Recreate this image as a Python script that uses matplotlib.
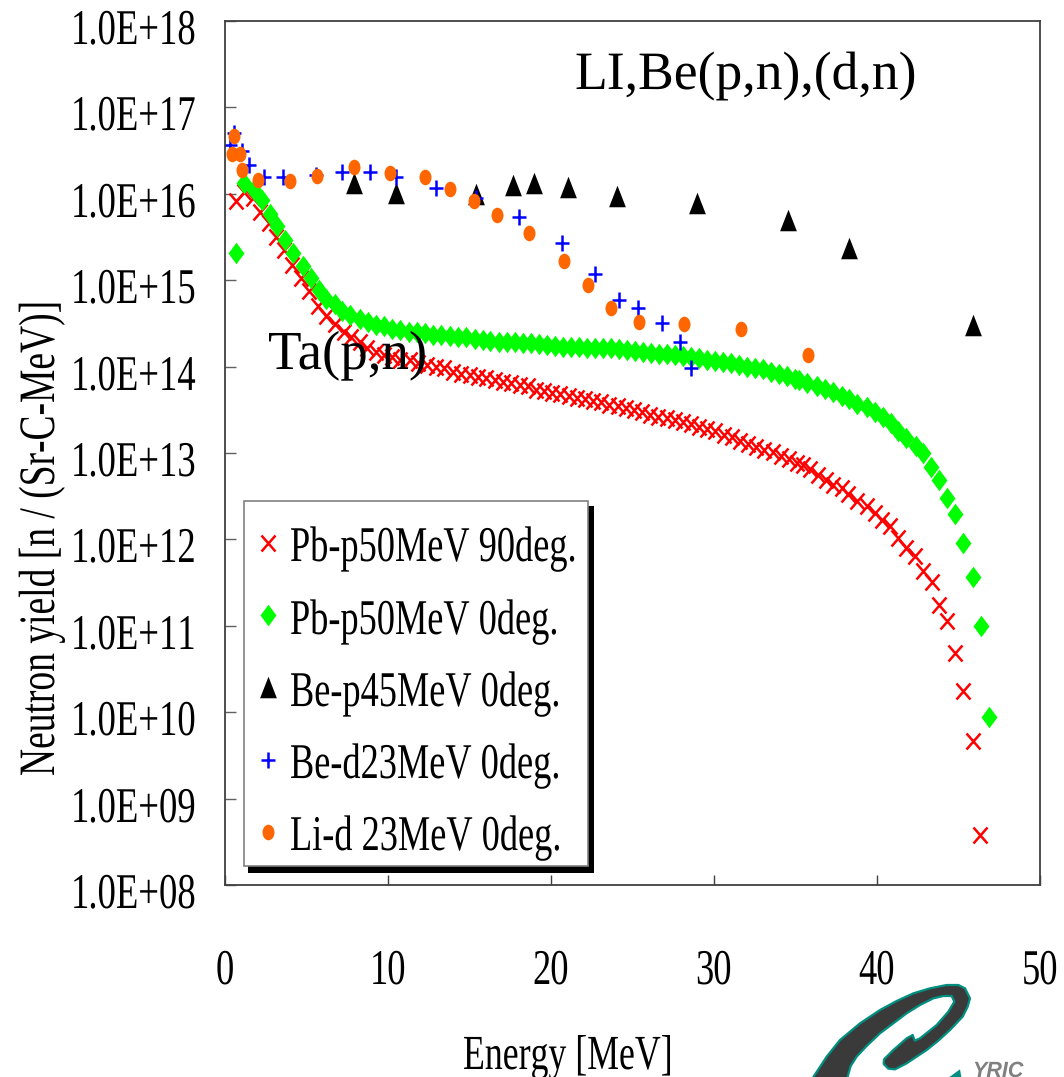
import numpy as np
import matplotlib
matplotlib.use("Agg")
import matplotlib.pyplot as plt
from matplotlib import font_manager as fm
from matplotlib.markers import MarkerStyle
from matplotlib.patches import Polygon, Rectangle
from matplotlib.transforms import Affine2D, ScaledTranslation

# ---------- data (x in MeV, y as log10 of the yield) ----------
pb90_x = [0.72,1.2,1.75,2.2,2.72,3.17,3.62,4.13,4.66,5.2,5.73,6.24,6.75,7.3,7.77,8.28,8.75,9.26,9.75,10.27,
          10.74,11.35,11.86,12.4,12.98,13.45,14.0,14.52,15.03,15.54,16.05,16.56,17.07,17.59,18.1,
          18.6,19.1,19.6,20.1,20.6,21.1,21.6,22.1,22.6,23.1,23.6,24.1,24.6,25.1,25.6,26.1,26.6,27.1,27.6,28.1,
          28.6,29.1,29.6,30.1,30.6,31.1,31.6,32.1,32.6,33.1,33.6,34.1,34.6,35.1,
          35.48,35.9,36.4,36.88,37.3,37.84,38.25,38.76,39.37,39.88,40.29,40.8,41.31,41.78,42.34,42.85,43.36,43.8,
          44.3,44.8,45.28,45.87,46.35]
pb90_log = [15.92,16.02,15.95,15.79,15.66,15.50,15.35,15.18,15.02,14.87,14.70,14.59,14.49,14.40,14.34,14.28,14.22,14.17,14.13,14.11,
            14.08,14.08,14.04,14.02,14.00,13.98,13.94,13.92,13.90,13.88,13.865,13.845,13.825,13.81,13.79,
            13.77,13.73,13.72,13.70,13.68,13.66,13.64,13.625,13.60,13.585,13.56,13.54,13.52,13.50,13.47,13.44,13.42,13.40,13.38,13.36,
            13.33,13.30,13.28,13.25,13.21,13.18,13.14,13.10,13.07,13.04,13.01,12.97,12.93,12.885,
            12.86,12.81,12.745,12.69,12.63,12.59,12.53,12.45,12.39,12.30,12.23,12.15,12.02,11.90,11.81,11.63,11.51,11.24,
            11.06,10.69,10.24,9.67,8.58]

pb0_x = [0.72,1.19,1.8,2.29,2.76,3.23,3.72,4.21,4.8,5.28,5.77,6.24,6.75,7.22,7.71,8.28,8.79,9.26,9.75,10.25,
         10.74,11.29,11.8,12.27,12.78,13.29,13.8,14.3,14.8,15.34,15.85,16.3,16.83,17.32,17.83,18.32,
         18.81,19.3,19.79,20.28,20.77,21.26,21.75,22.24,22.73,23.22,23.71,24.2,24.69,25.18,25.67,26.16,26.65,27.14,27.63,28.12,
         28.61,29.1,29.59,30.08,30.57,31.06,31.55,32.04,32.53,33.02,33.51,34.0,34.49,34.98,35.24,
         35.73,36.3,36.8,37.3,37.84,38.3,38.8,39.37,39.88,40.35,40.84,41.3,41.8,42.37,42.85,43.3,43.8,44.3,44.8,45.3,45.9,46.4,46.85]
pb0_log = [15.31,16.12,16.04,15.93,15.77,15.63,15.47,15.32,15.17,15.02,14.89,14.78,14.72,14.64,14.60,14.55,14.52,14.48,14.47,14.44,
           14.42,14.40,14.40,14.385,14.37,14.37,14.35,14.34,14.34,14.32,14.31,14.30,14.29,14.29,14.28,14.27,
           14.27,14.26,14.25,14.24,14.23,14.23,14.23,14.22,14.21,14.21,14.21,14.20,14.19,14.185,14.17,14.16,14.15,14.15,14.13,14.12,
           14.11,14.10,14.08,14.07,14.05,14.04,14.02,14.00,13.98,13.97,13.94,13.92,13.89,13.86,13.845,
           13.81,13.77,13.74,13.71,13.66,13.62,13.57,13.53,13.47,13.42,13.35,13.25,13.17,13.08,13.00,12.84,12.69,12.48,12.29,11.96,11.57,11.00,9.95]

bep_x = [7.93,10.49,15.4,17.67,19.0,21.05,24.05,29.0,34.55,38.3,45.9]
bep_log = [16.12,16.005,16.0,16.10,16.13,16.075,15.98,15.89,15.70,15.37,14.48]

bed_x = [0.35,0.57,1.06,1.49,2.41,3.58,5.58,7.2,8.9,10.53,12.98,15.44,18.05,20.7,22.74,24.19,25.38,26.83,27.91,28.63]
bed_log = [16.57,16.70,16.49,16.33,16.19,16.19,16.22,16.25,16.25,16.19,16.07,15.95,15.735,15.43,15.07,14.77,14.68,14.50,14.29,13.98]

lid_x = [0.61,0.47,0.96,1.08,2.04,3.99,5.66,7.93,10.12,12.29,13.84,15.3,16.73,18.67,20.82,22.29,23.72,25.42,28.18,31.68,35.77]
lid_log = [16.67,16.46,16.46,16.28,16.16,16.15,16.21,16.31,16.24,16.19,16.06,15.92,15.76,15.55,15.22,14.95,14.68,14.52,14.49,14.435,14.13]

series_labels = ["Pb-p50MeV 90deg.", "Pb-p50MeV 0deg.", "Be-p45MeV 0deg.", "Be-d23MeV 0deg.", "Li-d 23MeV 0deg."]
x_ticks = [0, 10, 20, 30, 40, 50]
y_tick_exps = [8, 9, 10, 11, 12, 13, 14, 15, 16, 17, 18]
y_tick_labels = ["1.0E+08","1.0E+09","1.0E+10","1.0E+11","1.0E+12","1.0E+13","1.0E+14","1.0E+15","1.0E+16","1.0E+17","1.0E+18"]

W, H = 1064, 1077


def condensed_serif(scale=0.73):
    """Build a horizontally condensed Liberation Serif; the reference text is squeezed."""
    try:
        from fontTools.ttLib import TTFont
        path = fm.findfont(fm.FontProperties(family="Liberation Serif"))
        font = TTFont(path)
        glyf = font["glyf"]
        for name in font.getGlyphOrder():
            g = glyf[name]
            if g.isComposite():
                for c in g.components:
                    c.x = int(round(c.x * scale))
            elif g.numberOfContours > 0:
                g.coordinates.scale((scale, 1))
                g.coordinates.toInt()
                g.recalcBounds(glyf)
        for name in font.getGlyphOrder():
            g = glyf[name]
            if g.isComposite():
                g.recalcBounds(glyf)
        hmtx = font["hmtx"]
        for name, (adv, lsb) in list(hmtx.metrics.items()):
            hmtx.metrics[name] = (int(round(adv * scale)), int(round(lsb * scale)))
        for t in ("kern", "GPOS", "GSUB", "GDEF", "hdmx", "VDMX", "LTSH", "fpgm", "prep", "cvt "):
            if t in font:
                del font[t]
        fam = "Liberation Serif Condensed"
        for rec in font["name"].names:
            if rec.nameID in (1, 16):
                rec.string = fam
            elif rec.nameID == 4:
                rec.string = fam
            elif rec.nameID == 6:
                rec.string = "LiberationSerifCondensed"
        font.save("serif_condensed.ttf")
        fm.fontManager.addfont("serif_condensed.ttf")
        return fam, 1.0
    except Exception:
        return "Liberation Serif", 0.73


cond_family, k = condensed_serif()
plt.rcParams["font.family"] = [cond_family, "Liberation Serif", "DejaVu Sans"]
plt.rcParams["text.hinting"] = "none"

fig = plt.figure(figsize=(W / 100, H / 100), dpi=100, facecolor="white")
px = Affine2D().scale(1 / W, -1 / H).translate(0, 1) + fig.transFigure

left, right, top, bottom = 224.5, 1040.0, 21.0, 885.0
ax = fig.add_axes([left / W, 1 - bottom / H, (right - left) / W, (bottom - top) / H])
ax.set_yscale("log")
ax.set_xlim(0, 50)
ax.set_ylim(1e8, 1e18)

diamond = MarkerStyle([(0, 1), (0.74, 0), (0, -1), (-0.74, 0)])
triangle = MarkerStyle([(0, 1), (-0.78, -1), (0.78, -1)])
cross = MarkerStyle("x", transform=Affine2D().scale(0.83, 1))
plus = MarkerStyle("+", transform=Affine2D().scale(0.87, 1))
oval = MarkerStyle("o", transform=Affine2D().scale(0.77, 1))

ax.plot(pb90_x, 10.0 ** np.array(pb90_log), ls="none", marker=cross, ms=12, mew=1.8,
        color="#ff0000", label=series_labels[0])
ax.plot(pb0_x, 10.0 ** np.array(pb0_log), ls="none", marker=diamond, ms=15.5, mew=0,
        color="#00ff00", label=series_labels[1])
ax.plot(bep_x, 10.0 ** np.array(bep_log), ls="none", marker=triangle, ms=15.5, mew=0,
        color="#000000", label=series_labels[2])
ax.plot(bed_x, 10.0 ** np.array(bed_log), ls="none", marker=plus, ms=11.2, mew=1.8,
        color="#0000ff", label=series_labels[3])
ax.plot(lid_x, 10.0 ** np.array(lid_log), ls="none", marker=oval, ms=11.2, mew=0,
        color="#ff6600", label=series_labels[4])

# axes, ticks
for s in ax.spines.values():
    s.set_color("#404040")
    s.set_linewidth(1.3)
ax.set_xticks(x_ticks)
ax.set_xticklabels([str(v) for v in x_ticks], fontsize=36 * k)
ax.set_yticks([10.0 ** e for e in y_tick_exps])
ax.set_yticklabels(y_tick_labels, fontsize=36.2 * k)
ax.minorticks_off()
ax.tick_params(axis="y", direction="in", length=8, width=1, color="#606060", pad=20)
ax.tick_params(axis="x", direction="in", length=7, width=1, color="#404040", pad=46)
shift = ScaledTranslation(0, -5 / 100, fig.dpi_scale_trans)
for lab in ax.get_yticklabels():
    lab.set_transform(lab.get_transform() + shift)

ax.set_xlabel("Energy [MeV]", fontsize=35.3 * k, va="baseline", ha="center")
ax.xaxis.set_label_coords(568, 1068, transform=px)
ax.set_ylabel("Neutron yield [n / (Sr-C-MeV)]", fontsize=37 * k, va="center", ha="center", rotation=90)
ax.yaxis.set_label_coords(43, 537, transform=px)

# annotations
fig.text(574, 88, "LI,Be(p,n),(d,n)", transform=px, family="Liberation Serif", fontsize=38.6, color="black", zorder=6)
fig.text(268, 368, "Ta(p,n)", transform=px, family="Liberation Serif", fontsize=39.5, color="black", zorder=6)

# legend: shadow, box, then the entries on top
ax.add_patch(Rectangle((248, 506), 345.5, 367, transform=px, facecolor="black", edgecolor="none",
                       clip_on=False, zorder=4))
ax.add_patch(Rectangle((244.3, 500.7), 343.4, 365, transform=px, facecolor="white", edgecolor="#808080",
                       linewidth=1.2, clip_on=False, zorder=4.1))
leg = ax.legend(loc="upper left", bbox_to_anchor=(256, 524.5), bbox_transform=px,
                fontsize=35.8 * k, frameon=False, numpoints=1,
                borderaxespad=0, borderpad=0, labelspacing=0.49, handlelength=0.5, handleheight=0.85,
                handletextpad=0.18)
leg.set_zorder(5)

# logo at lower right (decoration, clipped by the page)
logo = [(100,321),(140,260),(180,210),(240,160),(300,120),(350,93),(400,70),(450,55),(500,45),(535,45),(555,55),
        (570,85),(563,110),(548,140),(510,180),(475,212),(440,240),(380,280),(345,298),(325,296),(311,282),(312,268),
        (340,240),(380,205),(398,195),(404,212),(420,205),(470,165),(505,125),(523,95),(515,78),(490,78),(460,85),
        (420,105),(380,130),(340,160),(300,190),(260,228),(230,260),(212,288),(200,330),(100,330)]
logo_px = [(780 + a / 3, 970 + b / 3) for a, b in logo]
fig.add_artist(Polygon(logo_px, closed=True, transform=px, facecolor="#3a3a3a", edgecolor="#008f80",
                       linewidth=1.6, joinstyle="round"))
fig.add_artist(Polygon([(780 + 540 / 3, 970 + 298 / 3), (780 + 500 / 3, 1079), (780 + 545 / 3, 1079)], closed=True,
                       transform=px, facecolor="#008f80", edgecolor="none"))
fig.text(972, 1076.5, "YRIC", transform=px, family="Liberation Sans", fontsize=15.5, fontweight="bold",
         fontstyle="italic", color="#808080")

fig.savefig("out.png", dpi=100)
